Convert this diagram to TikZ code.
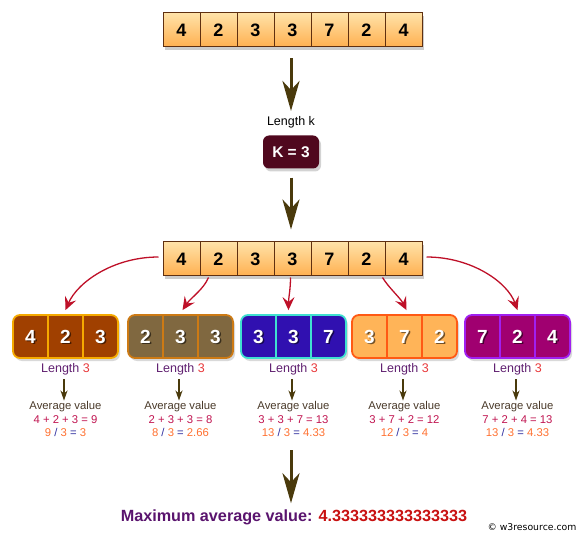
\documentclass[tikz,border=0pt]{standalone}
\usepackage{fontspec}
\setmainfont{Liberation Sans}
\newfontfamily\dejavu{DejaVu Sans}
\usetikzlibrary{arrows.meta,shadows,calc}
\definecolor{celltop}{RGB}{255,226,168}
\definecolor{cellbot}{RGB}{255,176,80}
\definecolor{cellbd}{RGB}{96,48,16}
\definecolor{kfill}{RGB}{80,8,30}
\definecolor{arrowbrown}{RGB}{74,58,12}
\definecolor{redarr}{RGB}{190,16,40}
\definecolor{lenpurple}{RGB}{96,32,112}
\definecolor{lenred}{RGB}{232,56,58}
\definecolor{avggray}{RGB}{74,58,42}
\definecolor{eqred}{RGB}{192,20,80}
\definecolor{divorange}{RGB}{255,112,48}
\definecolor{divblue}{RGB}{48,48,160}
\definecolor{maxpurple}{RGB}{90,20,110}
\definecolor{maxred}{RGB}{200,16,16}
\definecolor{bf1}{RGB}{160,64,0}
\definecolor{bd1}{RGB}{245,170,0}
\definecolor{bf2}{RGB}{128,104,64}
\definecolor{bd2}{RGB}{205,122,20}
\definecolor{bf3}{RGB}{48,16,176}
\definecolor{bd3}{RGB}{64,224,208}
\definecolor{bf4}{RGB}{255,180,88}
\definecolor{bd4}{RGB}{255,90,20}
\definecolor{bf5}{RGB}{160,0,112}
\definecolor{bd5}{RGB}{160,32,240}
\begin{document}
\begin{tikzpicture}[x=1pt,y=-1pt,
  cell/.style={draw=cellbd, line width=1pt, top color=celltop, bottom color=cellbot,
    minimum width=37pt, minimum height=34pt, inner sep=0pt,
    font=\fontsize{18}{18}\selectfont\bfseries, text=black,
    drop shadow={shadow xshift=2pt, shadow yshift=-3pt, opacity=0.4}},
  smallbox/.style={line width=1.8pt, minimum width=105pt, minimum height=43pt,
    rounded corners=7pt, inner sep=0pt,
    drop shadow={shadow xshift=2pt, shadow yshift=-3pt, opacity=0.3}},
  digit/.style={inner sep=0pt, text=white, font=\fontsize{19}{19}\selectfont\bfseries},
  digshadow/.style={inner sep=0pt, text=black, opacity=0.55, font=\fontsize{19}{19}\selectfont\bfseries},
  lenlabel/.style={inner sep=0pt, font=\fontsize{12.5}{13}\selectfont},
  smalltext/.style={inner sep=0pt, font=\fontsize{11.3}{11}\selectfont},
  bigarrow/.style={draw=arrowbrown, line width=3pt,
    -{Stealth[length=30pt,width=17pt,inset=9pt,fill=arrowbrown]}},
  smallarrow/.style={draw=arrowbrown, line width=1.2pt,
    -{Stealth[length=10pt,width=7pt,inset=3pt,fill=arrowbrown]}},
  redarrow/.style={draw=redarr, line width=1.3pt,
    -{Stealth[length=13pt,width=12pt,inset=5pt,fill=redarr]}}
]
\useasboundingbox (0,0) rectangle (586,537);

% top array
\foreach \v [count=\i] in {4,2,3,3,7,2,4}
  \node[cell] (t\i) at (181.5+37*\i-37, 30) {\v};

% Length k and K box
\node[lenlabel] (lenk) at (291,122) {Length k};
\node[fill=kfill, rounded corners=6pt, minimum width=56pt, minimum height=33pt,
  inner sep=0pt, text=white, font=\fontsize{15.5}{16}\selectfont\bfseries,
  drop shadow={shadow xshift=2pt, shadow yshift=-3pt, opacity=0.35}] (kbox) at (291,152) {K = 3};

\draw[bigarrow, shorten <=11pt, shorten >=5pt] (t4.south -| lenk) -- (lenk.north);

% middle array
\foreach \v [count=\i] in {4,2,3,3,7,2,4}
  \node[cell] (m\i) at (181.5+37*\i-37, 259) {\v};

\draw[bigarrow, shorten <=9pt, shorten >=12pt] (kbox.south) -- (kbox.south |- m4.north);

% small boxes
\foreach \k/\cx/\da/\db/\dc/\sm/\qq in {1/65.5/4/2/3/9/3, 2/180.5/2/3/3/8/2.66, 3/293.5/3/3/7/13/4.33, 4/404.5/3/7/2/12/4, 5/517.5/7/2/4/13/4.33}{
  \node[smallbox, fill=bf\k, draw=bd\k] (b\k) at (\cx,336.5) {};
  \draw[draw=bd\k, line width=1.2pt] (\cx-17.5,316) -- (\cx-17.5,357);
  \draw[draw=bd\k, line width=1.2pt] (\cx+17.5,316) -- (\cx+17.5,357);
  \node[digshadow] at (\cx-35+1.3,337.8) {\da};
  \node[digshadow] at (\cx+1.3,337.8) {\db};
  \node[digshadow] at (\cx+35+1.3,337.8) {\dc};
  \node[digit] (b\k a) at (\cx-35,336.5) {\da};
  \node[digit] (b\k b) at (\cx,336.5) {\db};
  \node[digit] (b\k c) at (\cx+35,336.5) {\dc};
  \node[lenlabel] (L\k) at (\cx,369) {\textcolor{lenpurple}{Length} \textcolor{lenred}{3}};
  \node[smalltext, text=avggray] (A\k) at (\cx,407) {Average value};
  \node[smalltext, text=eqred] (E\k) at (\cx,420) {\da{} + \db{} + \dc{} = \sm};
  \node[smalltext] (D\k) at (\cx,432.5) {\textcolor{divorange}{\sm} \textcolor{divblue}{/} \textcolor{divorange}{3} \textcolor{divblue}{=} \textcolor{divorange}{\qq}};
  \draw[smallarrow, shorten <=4pt, shorten >=1pt] ([xshift=-1.5pt]L\k.south) -- ([xshift=-1.5pt]A\k.north);
}

% red curved arrows
\draw[redarrow] ([xshift=-4pt,yshift=2pt]m1.west) .. controls +(-45,0) and +(12,-28) .. ([yshift=4pt]b1.north);
\draw[redarrow] ([xshift=-10pt,yshift=-1pt]m2.south) .. controls +(-5,12) and +(8,-12) .. ([xshift=2pt,yshift=4pt]b2.north);
\draw[redarrow] ([xshift=-2pt,yshift=-1pt]m4.south) .. controls +(0,12) and +(0,-12) .. ([xshift=-5pt,yshift=4pt]b3.north);
\draw[redarrow] ([xshift=16pt,yshift=-1pt]m6.south) .. controls +(6,10) and +(-6,-12) .. ([xshift=2pt,yshift=4pt]b4.north);
\draw[redarrow] ([xshift=4pt,yshift=2pt]m7.east) .. controls +(45,0) and +(-10,-28) .. ([yshift=4pt]b5.north);

% bottom
\node[inner sep=0pt, font=\fontsize{16.2}{17}\selectfont\bfseries] (maxv) at (294,517)
  {\textcolor{maxpurple}{Maximum average value:} \textcolor{maxred}{4.333333333333333}};
\coordinate (a3s) at (291,450);
\draw[bigarrow, shorten >=6pt] (a3s) -- (a3s |- maxv.north);

\node[inner sep=0pt, font=\dejavu\fontsize{9.3}{10}\selectfont] (copy) at (532,527) {© w3resource.com};
\end{tikzpicture}
\end{document}
